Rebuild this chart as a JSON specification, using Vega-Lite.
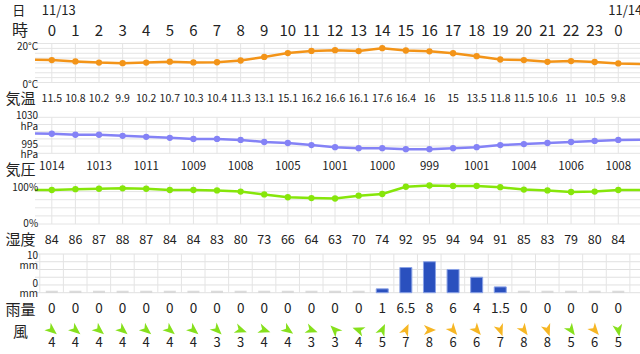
{
  "$schema": "https://vega.github.io/schema/vega-lite/v6.json",
  "width": 605,
  "height": 354,
  "autosize": "none",
  "padding": {"left": 35, "top": 0, "right": 0, "bottom": 0},
  "background": "white",
  "config": {
    "view": {"stroke": null},
    "text": {"font": "Noto Sans CJK JP", "color": "#222", "baseline": "middle"}
  },
  "datasets": {
    "hours": [
      {"i": -1, "temp": 11.8, "pres": 1014.2, "hum": 84},
      {"i": 0, "h": "0", "temp": 11.5, "pres": 1014, "hum": 84, "rain": 0, "ws": 4, "wd": 130},
      {"i": 1, "h": "1", "temp": 10.8, "pres": 1013, "hum": 86, "rain": 0, "ws": 4, "wd": 130},
      {"i": 2, "h": "2", "temp": 10.2, "pres": 1013, "hum": 87, "rain": 0, "ws": 4, "wd": 130},
      {"i": 3, "h": "3", "temp": 9.9, "pres": 1012, "hum": 88, "rain": 0, "ws": 4, "wd": 130},
      {"i": 4, "h": "4", "temp": 10.2, "pres": 1011, "hum": 87, "rain": 0, "ws": 4, "wd": 130},
      {"i": 5, "h": "5", "temp": 10.7, "pres": 1010, "hum": 84, "rain": 0, "ws": 4, "wd": 130},
      {"i": 6, "h": "6", "temp": 10.3, "pres": 1009, "hum": 84, "rain": 0, "ws": 4, "wd": 130},
      {"i": 7, "h": "7", "temp": 10.4, "pres": 1009, "hum": 83, "rain": 0, "ws": 3, "wd": 135},
      {"i": 8, "h": "8", "temp": 11.3, "pres": 1008, "hum": 80, "rain": 0, "ws": 3, "wd": 110},
      {"i": 9, "h": "9", "temp": 13.1, "pres": 1006, "hum": 73, "rain": 0, "ws": 4, "wd": 110},
      {"i": 10, "h": "10", "temp": 15.1, "pres": 1005, "hum": 66, "rain": 0, "ws": 4, "wd": 125},
      {"i": 11, "h": "11", "temp": 16.2, "pres": 1003, "hum": 64, "rain": 0, "ws": 3, "wd": 110},
      {"i": 12, "h": "12", "temp": 16.6, "pres": 1001, "hum": 63, "rain": 0, "ws": 3, "wd": 315},
      {"i": 13, "h": "13", "temp": 16.1, "pres": 1000, "hum": 70, "rain": 0, "ws": 4, "wd": 290},
      {"i": 14, "h": "14", "temp": 17.6, "pres": 1000, "hum": 74, "rain": 1, "ws": 5, "wd": 25},
      {"i": 15, "h": "15", "temp": 16.4, "pres": 999, "hum": 92, "rain": 6.5, "ws": 7, "wd": 25},
      {"i": 16, "h": "16", "temp": 16, "pres": 999, "hum": 95, "rain": 8, "ws": 8, "wd": 90},
      {"i": 17, "h": "17", "temp": 15, "pres": 1000, "hum": 94, "rain": 6, "ws": 6, "wd": 140},
      {"i": 18, "h": "18", "temp": 13.5, "pres": 1001, "hum": 94, "rain": 4, "ws": 6, "wd": 140},
      {"i": 19, "h": "19", "temp": 11.8, "pres": 1003, "hum": 91, "rain": 1.5, "ws": 7, "wd": 160},
      {"i": 20, "h": "20", "temp": 11.5, "pres": 1004, "hum": 85, "rain": 0, "ws": 8, "wd": 145},
      {"i": 21, "h": "21", "temp": 10.6, "pres": 1005, "hum": 83, "rain": 0, "ws": 8, "wd": 160},
      {"i": 22, "h": "22", "temp": 11, "pres": 1006, "hum": 79, "rain": 0, "ws": 5, "wd": 145},
      {"i": 23, "h": "23", "temp": 10.5, "pres": 1007, "hum": 80, "rain": 0, "ws": 6, "wd": 140},
      {"i": 24, "h": "0", "temp": 9.8, "pres": 1008, "hum": 84, "rain": 0, "ws": 5, "wd": 170},
      {"i": 25, "temp": 9.5, "pres": 1008.2, "hum": 84}
    ],
    "dates": [{"i": 0, "date": "11/13"}, {"i": 24, "date": "11/14"}],
    "gridT": [{"v": 0}, {"v": 2.5}, {"v": 5}, {"v": 7.5}, {"v": 10}, {"v": 12.5}, {"v": 15}, {"v": 17.5}, {"v": 20}],
    "gridP": [{"v": 995}, {"v": 1002}, {"v": 1009}, {"v": 1016}, {"v": 1023}, {"v": 1030}],
    "gridH": [{"v": 0}, {"v": 20}, {"v": 40}, {"v": 60}, {"v": 80}, {"v": 100}],
    "gridR": [{"v": 0}, {"v": 2}, {"v": 4}, {"v": 6}, {"v": 8}, {"v": 10}]
  },
  "layer": [
    {
      "data": {"name": "gridT"},
      "mark": {"type": "rule", "color": "#e4e4e4", "strokeWidth": 1},
      "encoding": {"y": {"field": "v", "type": "quantitative", "scale": {"domain": [0, 20], "range": [82.5, 43.5]}, "axis": null}}
    },
    {
      "data": {"name": "hours"},
      "transform": [{"filter": "datum.i >= 0 && datum.i <= 24"}],
      "mark": {"type": "rule", "color": "#e4e4e4", "strokeWidth": 1},
      "encoding": {
        "x": {"field": "i", "type": "quantitative", "scale": {"domain": [-0.5, 24.7083], "nice": false, "zero": false}, "axis": null},
        "y": {"datum": 0, "type": "quantitative", "scale": {"domain": [0, 20], "range": [82.5, 43.5]}, "axis": null},
        "y2": {"datum": 20}
      }
    },
    {
      "data": {"name": "hours"},
      "mark": {"type": "line", "color": "#f39418", "strokeWidth": 2.5, "clip": true},
      "encoding": {
        "x": {"field": "i", "type": "quantitative", "scale": {"domain": [-0.5, 24.7083], "nice": false, "zero": false}, "axis": null},
        "y": {"field": "temp", "type": "quantitative", "scale": {"domain": [0, 20], "range": [82.5, 43.5]}, "axis": null}
      }
    },
    {
      "data": {"name": "hours"},
      "transform": [{"filter": "datum.i >= 0 && datum.i <= 24"}],
      "mark": {"type": "point", "filled": true, "color": "#f39418", "size": 40, "opacity": 1},
      "encoding": {
        "x": {"field": "i", "type": "quantitative", "scale": {"domain": [-0.5, 24.7083], "nice": false, "zero": false}, "axis": null},
        "y": {"field": "temp", "type": "quantitative", "scale": {"domain": [0, 20], "range": [82.5, 43.5]}, "axis": null}
      }
    },
    {
      "data": {"name": "gridP"},
      "mark": {"type": "rule", "color": "#e4e4e4", "strokeWidth": 1},
      "encoding": {"y": {"field": "v", "type": "quantitative", "scale": {"domain": [995, 1030], "range": [153.3, 117.3]}, "axis": null}}
    },
    {
      "data": {"name": "hours"},
      "transform": [{"filter": "datum.i >= 0 && datum.i <= 24"}],
      "mark": {"type": "rule", "color": "#e4e4e4", "strokeWidth": 1},
      "encoding": {
        "x": {"field": "i", "type": "quantitative", "scale": {"domain": [-0.5, 24.7083], "nice": false, "zero": false}, "axis": null},
        "y": {"datum": 995, "type": "quantitative", "scale": {"domain": [995, 1030], "range": [153.3, 117.3]}, "axis": null},
        "y2": {"datum": 1030}
      }
    },
    {
      "data": {"name": "hours"},
      "mark": {"type": "line", "color": "#8482f6", "strokeWidth": 2.5, "clip": true},
      "encoding": {
        "x": {"field": "i", "type": "quantitative", "scale": {"domain": [-0.5, 24.7083], "nice": false, "zero": false}, "axis": null},
        "y": {"field": "pres", "type": "quantitative", "scale": {"domain": [995, 1030], "range": [153.3, 117.3]}, "axis": null}
      }
    },
    {
      "data": {"name": "hours"},
      "transform": [{"filter": "datum.i >= 0 && datum.i <= 24"}],
      "mark": {"type": "point", "filled": true, "color": "#8482f6", "size": 40, "opacity": 1},
      "encoding": {
        "x": {"field": "i", "type": "quantitative", "scale": {"domain": [-0.5, 24.7083], "nice": false, "zero": false}, "axis": null},
        "y": {"field": "pres", "type": "quantitative", "scale": {"domain": [995, 1030], "range": [153.3, 117.3]}, "axis": null}
      }
    },
    {
      "data": {"name": "gridH"},
      "mark": {"type": "rule", "color": "#e4e4e4", "strokeWidth": 1},
      "encoding": {"y": {"field": "v", "type": "quantitative", "scale": {"domain": [0, 100], "range": [224, 183.5]}, "axis": null}}
    },
    {
      "data": {"name": "hours"},
      "transform": [{"filter": "datum.i >= 0 && datum.i <= 24"}],
      "mark": {"type": "rule", "color": "#e4e4e4", "strokeWidth": 1},
      "encoding": {
        "x": {"field": "i", "type": "quantitative", "scale": {"domain": [-0.5, 24.7083], "nice": false, "zero": false}, "axis": null},
        "y": {"datum": 0, "type": "quantitative", "scale": {"domain": [0, 100], "range": [224, 183.5]}, "axis": null},
        "y2": {"datum": 100}
      }
    },
    {
      "data": {"name": "hours"},
      "mark": {"type": "line", "color": "#86e60a", "strokeWidth": 2.5, "clip": true},
      "encoding": {
        "x": {"field": "i", "type": "quantitative", "scale": {"domain": [-0.5, 24.7083], "nice": false, "zero": false}, "axis": null},
        "y": {"field": "hum", "type": "quantitative", "scale": {"domain": [0, 100], "range": [224, 183.5]}, "axis": null}
      }
    },
    {
      "data": {"name": "hours"},
      "transform": [{"filter": "datum.i >= 0 && datum.i <= 24"}],
      "mark": {"type": "point", "filled": true, "color": "#86e60a", "size": 40, "opacity": 1},
      "encoding": {
        "x": {"field": "i", "type": "quantitative", "scale": {"domain": [-0.5, 24.7083], "nice": false, "zero": false}, "axis": null},
        "y": {"field": "hum", "type": "quantitative", "scale": {"domain": [0, 100], "range": [224, 183.5]}, "axis": null}
      }
    },
    {
      "data": {"name": "gridR"},
      "mark": {"type": "rule", "color": "#e0e0e0", "strokeWidth": 1},
      "encoding": {"y": {"field": "v", "type": "quantitative", "scale": {"domain": [0, 10], "range": [292.7, 254]}, "axis": null}}
    },
    {
      "data": {"name": "hours"},
      "transform": [{"filter": "datum.i >= 0"}],
      "mark": {"type": "rule", "color": "#e4e4e4", "strokeWidth": 1, "xOffset": -12},
      "encoding": {
        "x": {"field": "i", "type": "quantitative", "scale": {"domain": [-0.5, 24.7083], "nice": false, "zero": false}, "axis": null},
        "y": {"datum": 0, "type": "quantitative", "scale": {"domain": [0, 10], "range": [292.7, 254]}, "axis": null},
        "y2": {"datum": 10}
      }
    },
    {
      "data": {"name": "hours"},
      "transform": [{"filter": "datum.i >= 0 && datum.i <= 24 && datum.rain > 0"}],
      "mark": {"type": "bar", "color": "#2a50be", "stroke": "#8aa2e6", "strokeWidth": 1, "size": 12},
      "encoding": {
        "x": {"field": "i", "type": "quantitative", "scale": {"domain": [-0.5, 24.7083], "nice": false, "zero": false}, "axis": null},
        "y": {"field": "rain", "type": "quantitative", "scale": {"domain": [0, 10], "range": [292.7, 254]}, "axis": null}
      }
    },
    {
      "data": {"name": "hours"},
      "transform": [{"filter": "datum.i >= 0 && datum.i <= 24 && datum.rain == 0"}],
      "mark": {"type": "tick", "color": "#cccccc", "orient": "horizontal", "size": 12, "thickness": 2, "yOffset": -1},
      "encoding": {
        "x": {"field": "i", "type": "quantitative", "scale": {"domain": [-0.5, 24.7083], "nice": false, "zero": false}, "axis": null},
        "y": {"field": "rain", "type": "quantitative", "scale": {"domain": [0, 10], "range": [292.7, 254]}, "axis": null}
      }
    },
    {
      "data": {"name": "hours"},
      "transform": [{"filter": "datum.i >= 0 && datum.i <= 24"}],
      "mark": {"type": "point", "filled": true, "opacity": 1, "size": 170, "strokeWidth": 0, "shape": "M0,-1L0.75,0.85L0,0.35L-0.75,0.85Z"},
      "encoding": {
        "x": {"field": "i", "type": "quantitative", "scale": {"domain": [-0.5, 24.7083], "nice": false, "zero": false}, "axis": null},
        "y": {"value": 330},
        "angle": {"field": "wd", "type": "quantitative", "scale": {"domain": [0, 360], "range": [0, 360]}, "legend": null},
        "color": {"field": "ws", "type": "quantitative", "scale": {"type": "threshold", "domain": [6], "range": ["#86e01c", "#f6b624"]}, "legend": null}
      }
    },
    {
      "data": {"name": "hours"},
      "transform": [{"filter": "datum.i >= 0 && datum.i <= 24"}],
      "mark": {"type": "text", "fontSize": 15, "align": "center"},
      "encoding": {
        "x": {"field": "i", "type": "quantitative", "scale": {"domain": [-0.5, 24.7083], "nice": false, "zero": false}, "axis": null},
        "y": {"value": 31},
        "text": {"field": "h"}
      }
    },
    {
      "data": {"name": "hours"},
      "transform": [{"filter": "datum.i >= 0 && datum.i <= 24"}],
      "mark": {"type": "text", "fontSize": 10.5, "align": "center", "font": "Liberation Sans Narrow, Noto Sans CJK JP"},
      "encoding": {
        "x": {"field": "i", "type": "quantitative", "scale": {"domain": [-0.5, 24.7083], "nice": false, "zero": false}, "axis": null},
        "y": {"value": 99},
        "text": {"field": "temp"}
      }
    },
    {
      "data": {"name": "hours"},
      "transform": [{"filter": "datum.i >= 0 && datum.i <= 24 && datum.i % 2 == 0"}],
      "mark": {"type": "text", "fontSize": 11.5, "align": "center"},
      "encoding": {
        "x": {"field": "i", "type": "quantitative", "scale": {"domain": [-0.5, 24.7083], "nice": false, "zero": false}, "axis": null},
        "y": {"value": 167},
        "text": {"field": "pres"}
      }
    },
    {
      "data": {"name": "hours"},
      "transform": [{"filter": "datum.i >= 0 && datum.i <= 24"}],
      "mark": {"type": "text", "fontSize": 12.5, "align": "center"},
      "encoding": {
        "x": {"field": "i", "type": "quantitative", "scale": {"domain": [-0.5, 24.7083], "nice": false, "zero": false}, "axis": null},
        "y": {"value": 240},
        "text": {"field": "hum"}
      }
    },
    {
      "data": {"name": "hours"},
      "transform": [{"filter": "datum.i >= 0 && datum.i <= 24"}],
      "mark": {"type": "text", "fontSize": 13.5, "align": "center"},
      "encoding": {
        "x": {"field": "i", "type": "quantitative", "scale": {"domain": [-0.5, 24.7083], "nice": false, "zero": false}, "axis": null},
        "y": {"value": 309},
        "text": {"field": "rain"}
      }
    },
    {
      "data": {"name": "hours"},
      "transform": [{"filter": "datum.i >= 0 && datum.i <= 24"}],
      "mark": {"type": "text", "fontSize": 13, "align": "center"},
      "encoding": {
        "x": {"field": "i", "type": "quantitative", "scale": {"domain": [-0.5, 24.7083], "nice": false, "zero": false}, "axis": null},
        "y": {"value": 343},
        "text": {"field": "ws"}
      }
    },
    {
      "data": {"name": "dates"},
      "mark": {"type": "text", "fontSize": 13, "align": "left", "xOffset": -10},
      "encoding": {
        "x": {"field": "i", "type": "quantitative", "scale": {"domain": [-0.5, 24.7083], "nice": false, "zero": false}, "axis": null},
        "y": {"value": 11},
        "text": {"field": "date"}
      }
    },
    {
      "data": {"values": [{"t": "日"}]},
      "mark": {"type": "text", "fontSize": 13, "align": "center"},
      "encoding": {"x": {"datum": -1.4, "type": "quantitative", "scale": {"domain": [-0.5, 24.7083], "nice": false, "zero": false}}, "y": {"value": 11}, "text": {"field": "t"}}
    },
    {
      "data": {"values": [{"t": "時"}]},
      "mark": {"type": "text", "fontSize": 16, "align": "center"},
      "encoding": {"x": {"datum": -1.35, "type": "quantitative", "scale": {"domain": [-0.5, 24.7083], "nice": false, "zero": false}}, "y": {"value": 31}, "text": {"field": "t"}}
    },
    {
      "data": {"values": [{"t": "気温"}]},
      "mark": {"type": "text", "fontSize": 15, "align": "center"},
      "encoding": {"x": {"datum": -1.33, "type": "quantitative", "scale": {"domain": [-0.5, 24.7083], "nice": false, "zero": false}}, "y": {"value": 99}, "text": {"field": "t"}}
    },
    {
      "data": {"values": [{"t": "気圧"}]},
      "mark": {"type": "text", "fontSize": 15, "align": "center"},
      "encoding": {"x": {"datum": -1.33, "type": "quantitative", "scale": {"domain": [-0.5, 24.7083], "nice": false, "zero": false}}, "y": {"value": 170}, "text": {"field": "t"}}
    },
    {
      "data": {"values": [{"t": "湿度"}]},
      "mark": {"type": "text", "fontSize": 15, "align": "center"},
      "encoding": {"x": {"datum": -1.33, "type": "quantitative", "scale": {"domain": [-0.5, 24.7083], "nice": false, "zero": false}}, "y": {"value": 240}, "text": {"field": "t"}}
    },
    {
      "data": {"values": [{"t": "雨量"}]},
      "mark": {"type": "text", "fontSize": 15, "align": "center"},
      "encoding": {"x": {"datum": -1.33, "type": "quantitative", "scale": {"domain": [-0.5, 24.7083], "nice": false, "zero": false}}, "y": {"value": 310}, "text": {"field": "t"}}
    },
    {
      "data": {"values": [{"t": "風"}]},
      "mark": {"type": "text", "fontSize": 15, "align": "center"},
      "encoding": {"x": {"datum": -1.33, "type": "quantitative", "scale": {"domain": [-0.5, 24.7083], "nice": false, "zero": false}}, "y": {"value": 332}, "text": {"field": "t"}}
    },
    {
      "data": {"values": [{"t": "20°C"}]},
      "mark": {"type": "text", "fontSize": 10, "align": "right"},
      "encoding": {"x": {"datum": -0.58, "type": "quantitative", "scale": {"domain": [-0.5, 24.7083], "nice": false, "zero": false}}, "y": {"value": 47}, "text": {"field": "t"}}
    },
    {
      "data": {"values": [{"t": "0°C"}]},
      "mark": {"type": "text", "fontSize": 10, "align": "right"},
      "encoding": {"x": {"datum": -0.58, "type": "quantitative", "scale": {"domain": [-0.5, 24.7083], "nice": false, "zero": false}}, "y": {"value": 84.5}, "text": {"field": "t"}}
    },
    {
      "data": {"values": [{"t": "1030"}]},
      "mark": {"type": "text", "fontSize": 10, "align": "right"},
      "encoding": {"x": {"datum": -0.58, "type": "quantitative", "scale": {"domain": [-0.5, 24.7083], "nice": false, "zero": false}}, "y": {"value": 116}, "text": {"field": "t"}}
    },
    {
      "data": {"values": [{"t": "hPa"}]},
      "mark": {"type": "text", "fontSize": 10, "align": "right"},
      "encoding": {"x": {"datum": -0.58, "type": "quantitative", "scale": {"domain": [-0.5, 24.7083], "nice": false, "zero": false}}, "y": {"value": 127}, "text": {"field": "t"}}
    },
    {
      "data": {"values": [{"t": "995"}]},
      "mark": {"type": "text", "fontSize": 10, "align": "right"},
      "encoding": {"x": {"datum": -0.58, "type": "quantitative", "scale": {"domain": [-0.5, 24.7083], "nice": false, "zero": false}}, "y": {"value": 144.5}, "text": {"field": "t"}}
    },
    {
      "data": {"values": [{"t": "hPa"}]},
      "mark": {"type": "text", "fontSize": 10, "align": "right"},
      "encoding": {"x": {"datum": -0.58, "type": "quantitative", "scale": {"domain": [-0.5, 24.7083], "nice": false, "zero": false}}, "y": {"value": 155}, "text": {"field": "t"}}
    },
    {
      "data": {"values": [{"t": "100%"}]},
      "mark": {"type": "text", "fontSize": 10, "align": "right"},
      "encoding": {"x": {"datum": -0.58, "type": "quantitative", "scale": {"domain": [-0.5, 24.7083], "nice": false, "zero": false}}, "y": {"value": 187.5}, "text": {"field": "t"}}
    },
    {
      "data": {"values": [{"t": "0%"}]},
      "mark": {"type": "text", "fontSize": 10, "align": "right"},
      "encoding": {"x": {"datum": -0.58, "type": "quantitative", "scale": {"domain": [-0.5, 24.7083], "nice": false, "zero": false}}, "y": {"value": 224}, "text": {"field": "t"}}
    },
    {
      "data": {"values": [{"t": "10"}]},
      "mark": {"type": "text", "fontSize": 10, "align": "right"},
      "encoding": {"x": {"datum": -0.58, "type": "quantitative", "scale": {"domain": [-0.5, 24.7083], "nice": false, "zero": false}}, "y": {"value": 255.5}, "text": {"field": "t"}}
    },
    {
      "data": {"values": [{"t": "mm"}]},
      "mark": {"type": "text", "fontSize": 10, "align": "right"},
      "encoding": {"x": {"datum": -0.58, "type": "quantitative", "scale": {"domain": [-0.5, 24.7083], "nice": false, "zero": false}}, "y": {"value": 266}, "text": {"field": "t"}}
    },
    {
      "data": {"values": [{"t": "0"}]},
      "mark": {"type": "text", "fontSize": 10, "align": "right"},
      "encoding": {"x": {"datum": -0.58, "type": "quantitative", "scale": {"domain": [-0.5, 24.7083], "nice": false, "zero": false}}, "y": {"value": 283.5}, "text": {"field": "t"}}
    },
    {
      "data": {"values": [{"t": "mm"}]},
      "mark": {"type": "text", "fontSize": 10, "align": "right"},
      "encoding": {"x": {"datum": -0.58, "type": "quantitative", "scale": {"domain": [-0.5, 24.7083], "nice": false, "zero": false}}, "y": {"value": 294}, "text": {"field": "t"}}
    }
  ],
  "resolve": {"scale": {"y": "independent", "color": "independent", "angle": "independent"}}
}
